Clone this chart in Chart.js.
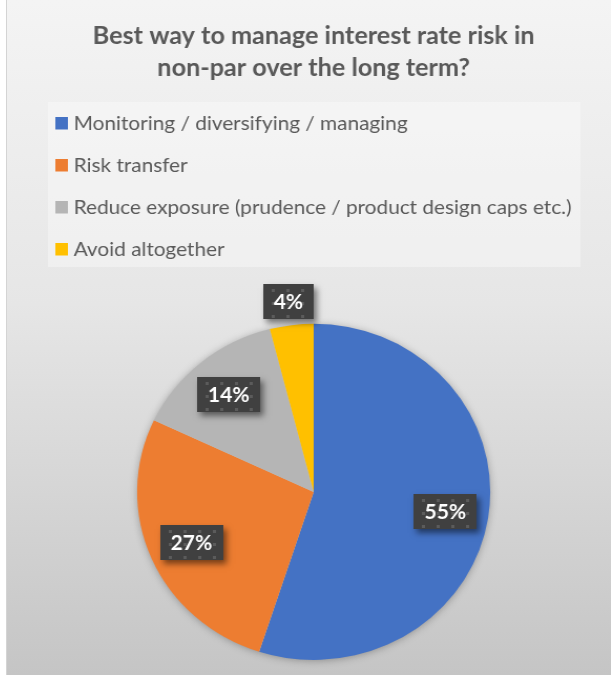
<!DOCTYPE html>
<html>
<head>
<meta charset="utf-8">
<script src="https://cdn.jsdelivr.net/npm/chart.js@4.4.0/dist/chart.umd.min.js"></script>
<style>
  html, body { margin: 0; padding: 0; background: #fff; }
  #frame {
    position: absolute; left: 6px; top: 0; width: 605px; height: 675px;
    box-sizing: border-box; border-left: 1px solid #d4d4d4;
    background: linear-gradient(#f4f4f4 0%, #e6e6e6 45%, #c5c5c5 100%);
    overflow: hidden;
  }
  /* the chart is drawn a little narrow and stretched sideways */
  #chart { position: absolute; left: 0; top: 0; transform: scaleX(1.0503); transform-origin: 0 0; }
</style>
</head>
<body>
<div id="frame"><canvas id="chart" width="576" height="675"></canvas></div>
<script>
const titleLines = ['Best way to manage interest rate risk in', 'non-par over the long term?'];
const categories = [
    'Monitoring / diversifying / managing',
    'Risk transfer',
    'Reduce exposure (prudence / product design caps etc.)',
    'Avoid altogether'
];
const shares = [55, 27, 14, 4];
const sliceColors = ['#4472c4', '#ed7d31', '#b5b5b5', '#ffc000'];

const textGrey = '#595959';
const fontFamily = 'Lato, "Open Sans", sans-serif';

// legend drawn as a left-aligned column on a pale panel
const columnLegend = {
    id: 'columnLegend',
    beforeDraw(chart) {
        const ctx = chart.ctx;
        ctx.save();
        ctx.fillStyle = 'rgba(255, 255, 255, 0.35)';
        ctx.fillRect(39, 102, 507, 165);
        ctx.font = '19.8px ' + fontFamily;
        ctx.textBaseline = 'middle';
        chart.data.labels.forEach((label, i) => {
            const y = 123 + i * 42;
            ctx.fillStyle = chart.data.datasets[0].backgroundColor[i];
            ctx.fillRect(46, y - 6, 12, 12.5);
            ctx.fillStyle = textGrey;
            ctx.fillText(label, 63.5, y + 1);
        });
        ctx.restore();
    }
};

// soft shadow under the whole pie
const pieShadow = {
    id: 'pieShadow',
    beforeDatasetsDraw(chart) {
        const arc = chart.getDatasetMeta(0).data[0];
        if (!arc) return;
        const ctx = chart.ctx;
        ctx.save();
        ctx.shadowColor = 'rgba(0, 0, 0, 0.35)';
        ctx.shadowBlur = 8;
        ctx.shadowOffsetY = 1;
        ctx.fillStyle = '#c8c8c8';
        ctx.beginPath();
        ctx.arc(arc.x, arc.y, arc.outerRadius - 1, 0, Math.PI * 2);
        ctx.fill();
        ctx.restore();
    }
};

let dotPattern;
function getDotPattern(ctx) {
    if (dotPattern) return dotPattern;
    const tile = document.createElement('canvas');
    tile.width = 14;
    tile.height = 13;
    const t = tile.getContext('2d');
    t.fillStyle = '#404040';
    t.fillRect(0, 0, 14, 13);
    t.fillStyle = '#5b5b5b';
    t.fillRect(8, 5, 3, 3);
    dotPattern = ctx.createPattern(tile, 'repeat');
    return dotPattern;
}

// percentage callouts in dark dotted boxes
const shareLabels = {
    id: 'shareLabels',
    afterDatasetsDraw(chart) {
        const ctx = chart.ctx;
        const meta = chart.getDatasetMeta(0);
        meta.data.forEach((arc, i) => {
            const p = arc.getProps(['x', 'y', 'startAngle', 'endAngle', 'outerRadius'], true);
            const mid = (p.startAngle + p.endAngle) / 2;
            const value = chart.data.datasets[0].data[i];
            const f = value < 10 ? 1.14 : 0.755;
            const cx = p.x + Math.cos(mid) * p.outerRadius * f;
            const cy = p.y + Math.sin(mid) * p.outerRadius * f;
            const text = value + '%';
            ctx.save();
            ctx.font = 'bold 20px ' + fontFamily;
            const w = Math.round(ctx.measureText(text).width + 20);
            const h = 35;
            const left = Math.round(cx - w / 2);
            const top = Math.round(cy - h / 2);
            ctx.shadowColor = 'rgba(0, 0, 0, 0.5)';
            ctx.shadowBlur = 6;
            ctx.shadowOffsetX = 3;
            ctx.shadowOffsetY = 4;
            ctx.fillStyle = '#404040';
            ctx.fillRect(left, top, w, h);
            ctx.shadowColor = 'transparent';
            const pat = getDotPattern(ctx);
            pat.setTransform(new DOMMatrix([1, 0, 0, 1, left, top]));
            ctx.fillStyle = pat;
            ctx.fillRect(left, top, w, h);
            ctx.fillStyle = '#ffffff';
            ctx.textAlign = 'center';
            ctx.textBaseline = 'middle';
            ctx.fillText(text, cx, top + h / 2 + 1);
            ctx.restore();
        });
    }
};

new Chart(document.getElementById('chart'), {
    type: 'pie',
    data: {
        labels: categories,
        datasets: [{
            data: shares,
            backgroundColor: sliceColors,
            borderWidth: 0
        }]
    },
    options: {
        responsive: false,
        devicePixelRatio: 1,
        animation: false,
        layout: { padding: { left: 8, right: 0, top: 0, bottom: 15 } },
        plugins: {
            legend: { display: false },
            tooltip: { enabled: false },
            title: {
                display: true,
                text: titleLines,
                color: textGrey,
                font: { family: fontFamily, size: 24, weight: 'bold', lineHeight: 1.35 },
                padding: { top: 20, bottom: 239 }
            }
        }
    },
    plugins: [columnLegend, pieShadow, shareLabels]
});
</script>
</body>
</html>
